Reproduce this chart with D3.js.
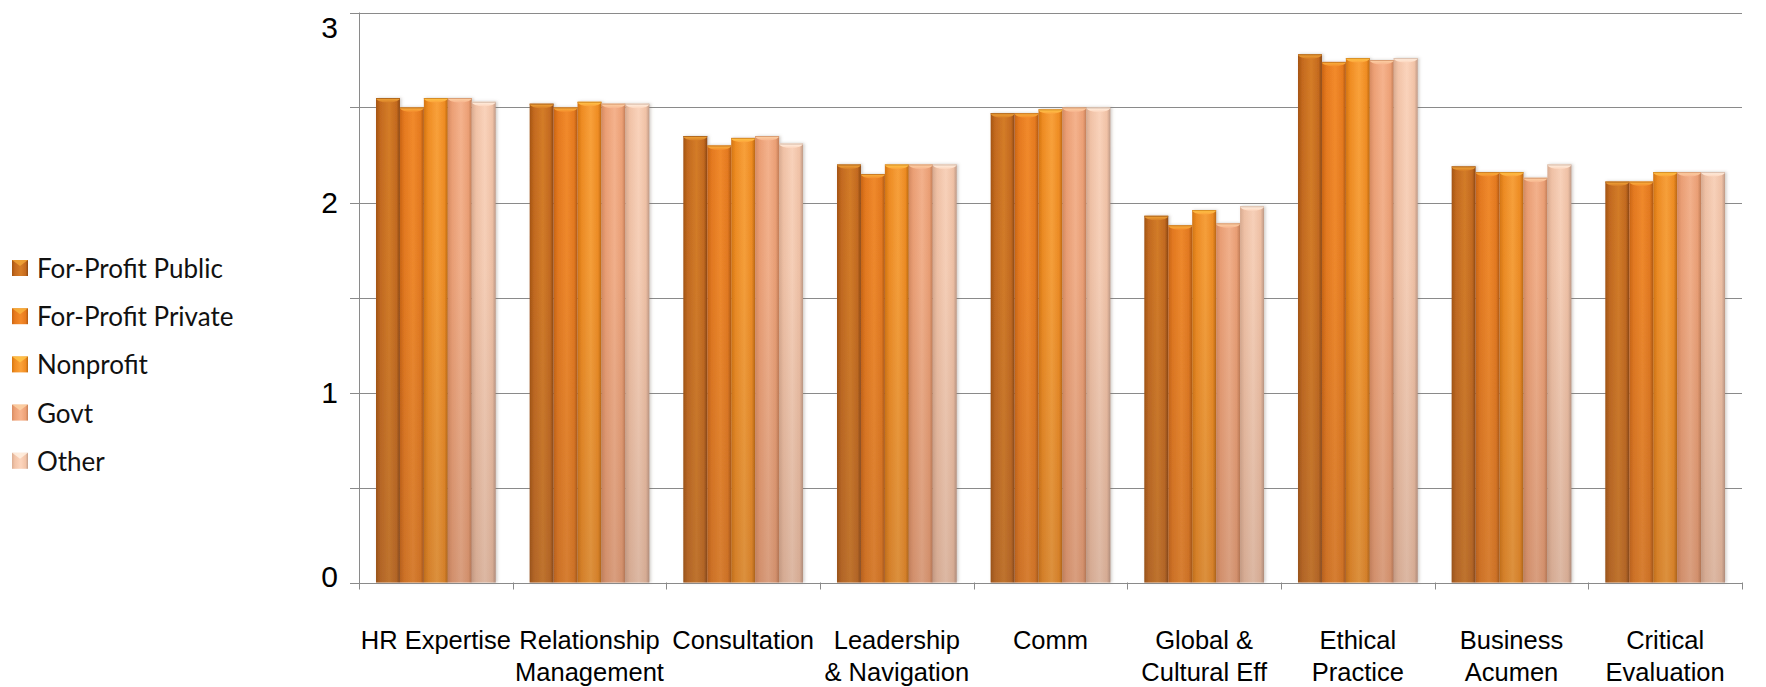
<!DOCTYPE html>
<html>
<head>
<meta charset="utf-8">
<script src="https://cdn.jsdelivr.net/npm/d3@7"></script>
<style>
  html, body { margin: 0; padding: 0; background: #ffffff; }
  svg { display: block; }
</style>
</head>
<body>
<svg id="chart" width="1766" height="687"></svg>
<script>
// Competency categories (line breaks mark wrapped labels)
const categories = [
  "HR Expertise",
  "Relationship\nManagement",
  "Consultation",
  "Leadership\n& Navigation",
  "Comm",
  "Global &\nCultural Eff",
  "Ethical\nPractice",
  "Business\nAcumen",
  "Critical\nEvaluation"
];

const seriesNames = ["For-Profit Public", "For-Profit Private", "Nonprofit", "Govt", "Other"];

// Mean rating per category for each organisation type
const forProfitPublic  = [2.55, 2.52, 2.35, 2.20, 2.47, 1.93, 2.78, 2.19, 2.11];
const forProfitPrivate = [2.50, 2.50, 2.30, 2.15, 2.47, 1.88, 2.74, 2.16, 2.11];
const nonprofit        = [2.55, 2.53, 2.34, 2.20, 2.49, 1.96, 2.76, 2.16, 2.16];
const govt             = [2.55, 2.52, 2.35, 2.20, 2.50, 1.89, 2.75, 2.13, 2.16];
const other            = [2.53, 2.52, 2.31, 2.20, 2.50, 1.98, 2.76, 2.20, 2.16];

const seriesValues = [forProfitPublic, forProfitPrivate, nonprofit, govt, other];

const yTicks = [0, 0.5, 1, 1.5, 2, 2.5, 3];
const yTickLabels = ["0", "", "1", "", "2", "", "3"];

// Cylinder shading per series: [edge, base, highlight, rim, cap]
const palette = [
  ["#a5540f", "#c56a1e", "#d67d27", "#8a4510", "#f3a838"],
  ["#cc6512", "#e77a1e", "#f48b2b", "#b05810", "#f8b540"],
  ["#d6760f", "#f18d22", "#fba23a", "#bd680e", "#ffc84a"],
  ["#d88c62", "#eea176", "#f7b48e", "#c47e57", "#fdd3a6"],
  ["#dbad92", "#f3c4a8", "#fcd5bd", "#c29c88", "#fff1e3"]
];

const svg = d3.select("#chart");
const W = 1766, H = 687;
const margin = { left: 359, right: 24, top: 12.5, bottom: 104.5 };
const plotRight = W - margin.right;
const plotBottom = H - margin.bottom;

const x0 = d3.scaleBand().domain(categories).range([margin.left, plotRight]).paddingInner(0).paddingOuter(0);
const x1 = d3.scaleBand().domain(seriesNames).range([0, x0.bandwidth()]).paddingInner(0).paddingOuter(0.71);
const y = d3.scaleLinear().domain([0, 3]).range([plotBottom, margin.top]);

// Gradients and shadow
const defs = svg.append("defs");
palette.forEach((p, i) => {
  const g = defs.append("linearGradient").attr("id", "bar" + i)
    .attr("x1", 0).attr("x2", 1).attr("y1", 0).attr("y2", 0);
  g.append("stop").attr("offset", "0%").attr("stop-color", p[0]);
  g.append("stop").attr("offset", "18%").attr("stop-color", p[1]);
  g.append("stop").attr("offset", "55%").attr("stop-color", p[2]);
  g.append("stop").attr("offset", "86%").attr("stop-color", p[1]);
  g.append("stop").attr("offset", "100%").attr("stop-color", p[3]);

  const c = defs.append("linearGradient").attr("id", "cap" + i)
    .attr("x1", 0).attr("x2", 0).attr("y1", 0).attr("y2", 1);
  c.append("stop").attr("offset", "0%").attr("stop-color", p[4]);
  c.append("stop").attr("offset", "100%").attr("stop-color", p[2]);
});
// Darkening towards the floor of the plot
const shade = defs.append("linearGradient").attr("id", "floorShade")
  .attr("gradientUnits", "userSpaceOnUse")
  .attr("x1", 0).attr("x2", 0).attr("y1", y(3)).attr("y2", y(0));
shade.append("stop").attr("offset", "0%").attr("stop-color", "#6b5048").attr("stop-opacity", 0);
shade.append("stop").attr("offset", "45%").attr("stop-color", "#6b5048").attr("stop-opacity", 0.05);
shade.append("stop").attr("offset", "100%").attr("stop-color", "#6b5048").attr("stop-opacity", 0.22);

const shadow = defs.append("filter").attr("id", "barShadow")
  .attr("x", "-10%").attr("y", "-5%").attr("width", "120%").attr("height", "110%");
shadow.append("feDropShadow").attr("dx", 1.5).attr("dy", 0).attr("stdDeviation", 1.5)
  .attr("flood-color", "#7a6a60").attr("flood-opacity", 0.35);

// Gridlines and y ticks
const gridG = svg.append("g");
gridG.selectAll("line").data(yTicks).join("line")
  .attr("x1", margin.left - 9).attr("x2", plotRight)
  .attr("y1", d => Math.round(y(d)) + 0.5).attr("y2", d => Math.round(y(d)) + 0.5)
  .attr("stroke", "#8a8a8a").attr("stroke-width", 1);

// y axis line
svg.append("line")
  .attr("x1", margin.left + 0.5).attr("x2", margin.left + 0.5)
  .attr("y1", y(3)).attr("y2", y(0) + 6)
  .attr("stroke", "#8a8a8a").attr("stroke-width", 1);

// y labels
svg.append("g").selectAll("text").data(yTicks.map((v, i) => ({ v, t: yTickLabels[i] })).filter(d => d.t !== ""))
  .join("text")
  .attr("x", margin.left - 21)
  .attr("y", d => Math.min(Math.max(y(d.v), y(3) + 15), y(0) - 6))
  .attr("text-anchor", "end")
  .attr("dominant-baseline", "central")
  .attr("font-family", "'Liberation Sans', Arial, sans-serif")
  .attr("font-size", 30)
  .attr("fill", "#000")
  .text(d => d.t);

// Bars
const groups = svg.append("g").selectAll("g").data(categories).join("g")
  .attr("transform", d => `translate(${x0(d)},0)`);

const barData = (c, ci) => seriesNames.map((s, si) => ({ s, si, v: seriesValues[si][ci] }));

groups.each(function (c, ci) {
  const g = d3.select(this).append("g").attr("filter", "url(#barShadow)");
  const data = barData(c, ci);
  const w = x1.bandwidth();

  g.selectAll("rect.bar").data(data).join("rect").attr("class", "bar")
    .attr("x", d => x1(d.s)).attr("width", w)
    .attr("y", d => y(d.v)).attr("height", d => y(0) - y(d.v))
    .attr("fill", d => `url(#bar${d.si})`);

  g.selectAll("rect.shade").data(data).join("rect").attr("class", "shade")
    .attr("x", d => x1(d.s)).attr("width", w)
    .attr("y", d => y(d.v)).attr("height", d => y(0) - y(d.v))
    .attr("fill", "url(#floorShade)");

  // top edge and concave cap highlight
  g.selectAll("path.cap").data(data).join("path").attr("class", "cap")
    .attr("d", d => {
      const x = x1(d.s), t = y(d.v);
      return `M${x},${t} A${w / 2},4.5 0 0 0 ${x + w},${t} Z`;
    })
    .attr("fill", d => `url(#cap${d.si})`);

  g.selectAll("line.rim").data(data).join("line").attr("class", "rim")
    .attr("x1", d => x1(d.s)).attr("x2", d => x1(d.s) + w)
    .attr("y1", d => y(d.v) + 0.5).attr("y2", d => y(d.v) + 0.5)
    .attr("stroke", d => palette[d.si][3]).attr("stroke-opacity", 0.6).attr("stroke-width", 1);
});

// x axis baseline and category ticks
svg.append("line")
  .attr("x1", margin.left - 9).attr("x2", plotRight)
  .attr("y1", Math.round(y(0)) + 0.5).attr("y2", Math.round(y(0)) + 0.5)
  .attr("stroke", "#8a8a8a");
const tickXs = categories.map(c => x0(c)).concat([x0(categories[categories.length - 1]) + x0.bandwidth()]);
svg.append("g").selectAll("line").data(tickXs).join("line")
  .attr("x1", d => Math.round(d) + 0.5).attr("x2", d => Math.round(d) + 0.5)
  .attr("y1", y(0)).attr("y2", y(0) + 7)
  .attr("stroke", "#8a8a8a");

// Category labels
const labelG = svg.append("g");
categories.forEach(c => {
  const lines = c.split("\n");
  const cx = x0(c) + x0.bandwidth() / 2;
  const t = labelG.append("text")
    .attr("x", cx)
    .attr("y", 649)
    .attr("text-anchor", "middle")
    .attr("font-family", "'Liberation Sans', Arial, sans-serif")
    .attr("font-size", 25.5)
    .attr("fill", "#000");
  lines.forEach((l, i) => {
    t.append("tspan").attr("x", cx).attr("dy", i === 0 ? 0 : 31.5).text(l);
  });
});

// Legend
const legend = svg.append("g").attr("transform", "translate(12,268)");
const items = legend.selectAll("g").data(seriesNames).join("g")
  .attr("transform", (d, i) => `translate(0,${i * 48.2})`);
items.append("rect")
  .attr("x", 0).attr("y", -8).attr("width", 16).attr("height", 16)
  .attr("fill", (d, i) => `url(#bar${i})`);
items.append("path")
  .attr("d", "M0,-8 L16,-8 L8,-2 Z")
  .attr("fill", (d, i) => palette[i][4]).attr("opacity", 0.8);
items.append("text")
  .attr("x", 25).attr("y", 0)
  .attr("dominant-baseline", "central")
  .attr("font-family", "Lato, 'Noto Sans', sans-serif")
  .attr("font-size", 26)
  .attr("fill", "#111")
  .text(d => d);
</script>
</body>
</html>
